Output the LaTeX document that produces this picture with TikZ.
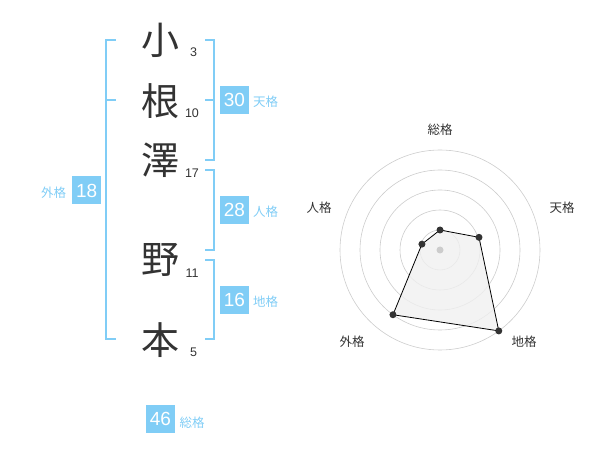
\documentclass[tikz,border=0pt]{standalone}
\usepackage{fontspec}
\setmainfont{Liberation Sans}
\newfontfamily\cjk{Noto Sans CJK JP}
\definecolor{kakublue}{HTML}{80CDF6}
\definecolor{inkgray}{HTML}{333333}
\definecolor{gridgray}{HTML}{CCCCCC}
\definecolor{areagray}{HTML}{F0F0F0}
\begin{document}
\begin{tikzpicture}[x=1pt,y=-1pt]
	\tikzstyle{every node}+=[inner sep=0pt]
	\tikzstyle{kanji}=[text=inkgray, font=\cjk\fontsize{38}{38}\selectfont]
	\tikzstyle{strokes}=[text=inkgray, font=\fontsize{12.5}{12.5}\selectfont]
	\tikzstyle{kakubox}=[fill=kakublue, text=white, minimum width=29pt, minimum height=28pt, font=\fontsize{19}{19}\selectfont]
	\tikzstyle{kakulabel}=[text=kakublue, font=\cjk\fontsize{12.5}{12.5}\selectfont]
	\tikzstyle{bracket}=[kakublue, line width=2pt]
	\tikzstyle{axislabel}=[text=inkgray, font=\cjk\fontsize{12.5}{12.5}\selectfont]
	\useasboundingbox (0,0) rectangle (600,470);
	% name
	\node [kanji] (k1) at (160,40) {小};
	\node [kanji] (k2) at (160,101) {根};
	\node [kanji] (k3) at (160,160) {澤};
	\node [kanji] (k4) at (160,260) {野};
	\node [kanji] (k5) at (160,340) {本};
	\node [strokes] (n1) at (193.5,52) {3};
	\node [strokes] (n2) at (192,113) {10};
	\node [strokes] (n3) at (192,173) {17};
	\node [strokes] (n4) at (192,273) {11};
	\node [strokes] (n5) at (193.5,352) {5};
	% brackets
	\draw [bracket] (115.7,40) -- (105.7,40) -- (105.7,339) -- (115.7,339);
	\draw [bracket] (105.7,100) -- (115.7,100);
	\draw [bracket] (205,40) -- (214,40) -- (214,160) -- (205,160);
	\draw [bracket] (205,100) -- (214,100);
	\draw [bracket] (205,170) -- (214,170) -- (214,250) -- (205,250);
	\draw [bracket] (205,260) -- (214,260) -- (214,339) -- (205,339);
	% boxes
	\node [kakubox] (ten) at (234.5,100) {30};
	\node [kakulabel, anchor=west] (tenl) at (253,102) {天格};
	\node [kakubox] (jin) at (234.5,210) {28};
	\node [kakulabel, anchor=west] (jinl) at (253,212) {人格};
	\node [kakubox] (chi) at (234.5,300) {16};
	\node [kakulabel, anchor=west] (chil) at (253,302) {地格};
	\node [kakubox] (gai) at (86.7,190.5) {18};
	\node [kakulabel] (gail) at (53.5,193) {外格};
	\node [kakubox] (sou) at (160.5,419) {46};
	\node [kakulabel] (soul) at (192,422.5) {総格};
	% radar
	\begin{scope}[shift={(440,250)}]
		\foreach \r in {20,40,...,100}
			\draw [gridgray, line width=0.6pt] (0,0) circle (\r);
		\coordinate (vs) at (-90:20);
		\coordinate (vt) at (-18:41);
		\coordinate (vc) at (54:100);
		\coordinate (vg) at (126:80);
		\coordinate (vj) at (198:19);
		\fill [areagray, opacity=0.8] (vs) -- (vt) -- (vc) -- (vg) -- (vj) -- cycle;
		\draw [black, line width=0.8pt] (vs) -- (vt) -- (vc) -- (vg) -- (vj) -- cycle;
		\fill [gridgray] (0,0) circle (3.5);
		\foreach \v in {vs,vt,vc,vg,vj}
			\fill [inkgray] (\v) circle (3.5);
		\node [axislabel] (as) at (0,-120) {総格};
		\node [axislabel] (at) at (122,-42) {天格};
		\node [axislabel] (ac) at (84,92) {地格};
		\node [axislabel] (ag) at (-88,92) {外格};
		\node [axislabel] (aj) at (-121,-42) {人格};
	\end{scope}
\end{tikzpicture}
\end{document}
